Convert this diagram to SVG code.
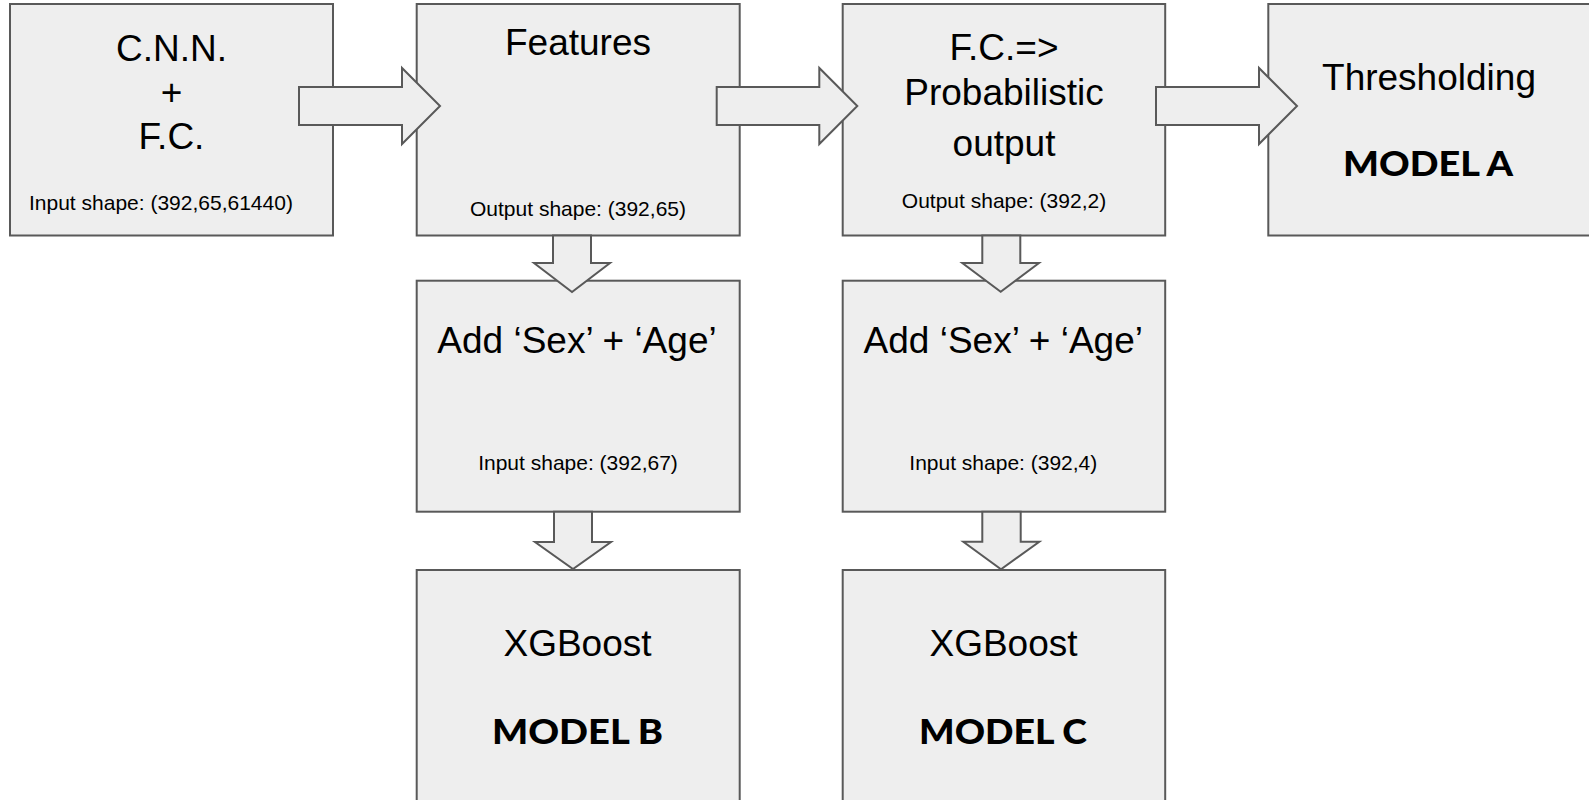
<svg xmlns="http://www.w3.org/2000/svg" width="1589" height="800" viewBox="0 0 1589 800">
  <style>
    .box { fill: #eeeeee; stroke: #595959; stroke-width: 2; }
    .arrow { fill: #eeeeee; stroke: #595959; stroke-width: 2; stroke-linejoin: miter; }
    .big { font-family: "Liberation Sans", Arial, sans-serif; font-size: 37px; fill: #000; text-anchor: middle; }
    .small { font-family: "Liberation Sans", Arial, sans-serif; font-size: 21px; fill: #000; text-anchor: middle; }
    .model { font-family: Lato, "DejaVu Sans", sans-serif; font-weight: 900; font-size: 34px; fill: #000; text-anchor: middle; }
  </style>
  <rect width="1589" height="800" fill="#ffffff"/>

  <!-- Top row -->
  <g id="cnn">
    <rect class="box" x="10" y="4" width="323" height="231.5"/>
    <text class="big" x="171.5" y="61">C.N.N.</text>
    <text class="big" x="171.5" y="105">+</text>
    <text class="big" x="171.5" y="149">F.C.</text>
    <text class="small" x="29" y="210" style="text-anchor:start">Input shape: (392,65,61440)</text>
  </g>

  <g id="features">
    <rect class="box" x="416.7" y="4" width="323" height="231.5"/>
    <text class="big" x="578" y="55">Features</text>
    <text class="small" x="578" y="216">Output shape: (392,65)</text>
  </g>

  <g id="probabilistic">
    <rect class="box" x="842.7" y="4" width="322.5" height="231.5"/>
    <text class="big" x="1004" y="60">F.C.=&gt;</text>
    <text class="big" x="1004" y="105">Probabilistic</text>
    <text class="big" x="1004" y="156">output</text>
    <text class="small" x="1004" y="208">Output shape: (392,2)</text>
  </g>

  <g id="thresholding">
    <rect class="box" x="1268.3" y="4" width="323" height="231.5"/>
    <text class="big" x="1429" y="90">Thresholding</text>
    <text class="model" x="1428" y="176" textLength="170" lengthAdjust="spacingAndGlyphs">MODEL A</text>
  </g>

  <!-- Middle row -->
  <g id="add-features">
    <rect class="box" x="416.7" y="280.7" width="323" height="231"/>
    <text class="big" x="577" y="352.7">Add ‘Sex’ + ‘Age’</text>
    <text class="small" x="578" y="470">Input shape: (392,67)</text>
  </g>

  <g id="add-probabilistic">
    <rect class="box" x="842.7" y="280.7" width="322.5" height="231"/>
    <text class="big" x="1003.3" y="352.7">Add ‘Sex’ + ‘Age’</text>
    <text class="small" x="1003.3" y="470">Input shape: (392,4)</text>
  </g>

  <!-- Bottom row -->
  <g id="xgboost-b">
    <rect class="box" x="416.7" y="570" width="323" height="232"/>
    <text class="big" x="577.5" y="656">XGBoost</text>
    <text class="model" x="577.5" y="744" textLength="171" lengthAdjust="spacingAndGlyphs">MODEL B</text>
  </g>

  <g id="xgboost-c">
    <rect class="box" x="842.7" y="570" width="322.5" height="232"/>
    <text class="big" x="1003.5" y="656">XGBoost</text>
    <text class="model" x="1003" y="744" textLength="168" lengthAdjust="spacingAndGlyphs">MODEL C</text>
  </g>

  <!-- Block arrows between stages -->
  <g id="connectors">
    <polygon class="arrow" points="299,87 402,87 402,68 440,106 402,144 402,125 299,125"/>
    <polygon class="arrow" points="716.7,87 819.3,87 819.3,68 857.3,106 819.3,144 819.3,125 716.7,125"/>
    <polygon class="arrow" points="1156,87 1259,87 1259,68 1297,106 1259,144 1259,125 1156,125"/>
    <polygon class="arrow" points="553,235.5 591,235.5 591,263 610,263 572,292 534,263 553,263"/>
    <polygon class="arrow" points="554,511.7 592,511.7 592,542 611,542 573,569 535,542 554,542"/>
    <polygon class="arrow" points="982.3,235.5 1020.3,235.5 1020.3,263 1039,263 1000.7,291.7 962.3,263 982.3,263"/>
    <polygon class="arrow" points="982.3,511.7 1020.7,511.7 1020.7,541.7 1039.3,541.7 1001,569.3 963.3,541.7 982.3,541.7"/>
  </g>
</svg>
